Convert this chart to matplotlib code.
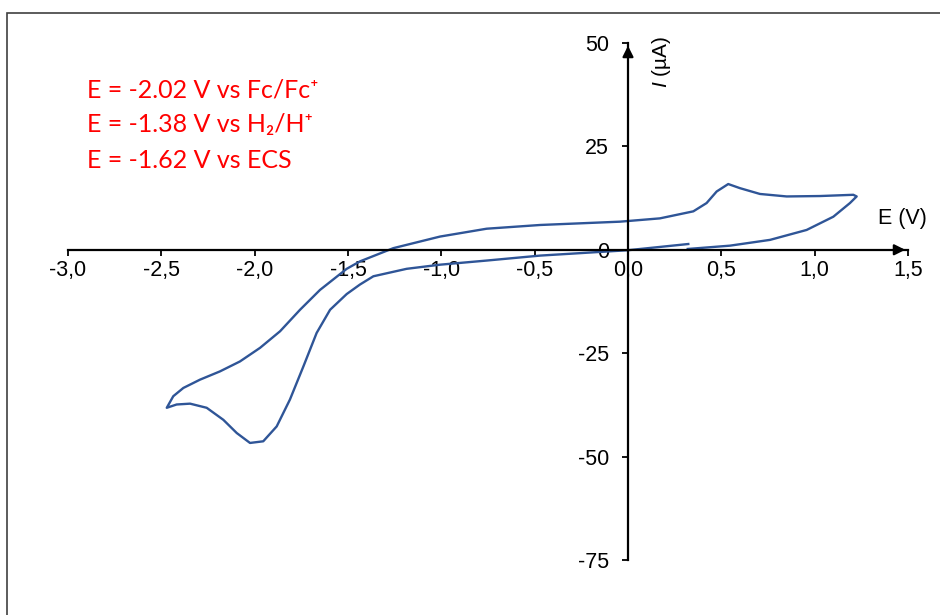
import matplotlib.pyplot as plt
from matplotlib.patches import Rectangle
from matplotlib.ticker import FuncFormatter, MultipleLocator

plt.rcParams['font.family'] = ['Liberation Sans', 'DejaVu Sans']
plt.rcParams['mathtext.fontset'] = 'custom'
plt.rcParams['mathtext.rm'] = 'Liberation Sans'
plt.rcParams['mathtext.it'] = 'Liberation Sans:italic'

# cyclic voltammogram, in scan order (E in V, I in uA)
E_scan = [0.32, 0.546, 0.761, 0.957, 1.10, 1.189, 1.225,
          1.207, 1.029, 0.85, 0.707, 0.60, 0.537, 0.475, 0.421, 0.35, 0.171, -0.043,
          -0.471, -0.757, -1.007, -1.257, -1.436, -1.507, -1.650, -1.757, -1.864,
          -1.971, -2.079, -2.186, -2.293, -2.382, -2.436, -2.471,
          -2.418, -2.346, -2.257, -2.168, -2.096, -2.025, -1.954, -1.882, -1.811,
          -1.739, -1.668, -1.596, -1.507, -1.436, -1.364, -1.186, -1.007, -0.757,
          -0.471, 0.0, 0.323]
I_scan = [0.2, 1.0, 2.4, 4.8, 8.0, 11.3, 12.9,
          13.3, 13.0, 12.9, 13.5, 14.9, 15.9, 14.1, 11.3, 9.3, 7.6, 6.8,
          6.0, 5.1, 3.2, 0.4, -2.8, -4.6, -9.7, -14.5, -19.7,
          -23.7, -27.0, -29.4, -31.4, -33.4, -35.4, -38.2,
          -37.4, -37.2, -38.2, -41.1, -44.3, -46.7, -46.3, -42.7, -36.2,
          -28.2, -20.1, -14.5, -10.7, -8.4, -6.4, -4.6, -3.6, -2.6,
          -1.4, -0.1, 1.4]

notes = ['E = -2.02 V vs Fc/Fc⁺',
         'E = -1.38 V vs H₂/H⁺',
         'E = -1.62 V vs ECS']

W, H = 940, 615
fig = plt.figure(figsize=(W / 100, H / 100), dpi=100)
ax = fig.add_axes([68 / W, 1 - 560 / H, 840 / W, 517 / H])

ax.plot(E_scan, I_scan, color='#2F5597', lw=1.7, solid_joinstyle='round')

ax.set_xlim(-3.0, 1.5)
ax.set_ylim(-75, 50)
ax.xaxis.set_major_locator(MultipleLocator(0.5))
ax.yaxis.set_major_locator(MultipleLocator(25))
ax.xaxis.set_major_formatter(FuncFormatter(lambda v, p: f'{v:.1f}'.replace('.', ',').replace('-0,0', '0,0')))
ax.yaxis.set_major_formatter(FuncFormatter(lambda v, p: f'{v:.0f}'))

ax.spines['left'].set_position(('data', 0))
ax.spines['bottom'].set_position(('data', 0))
ax.spines['right'].set_visible(False)
ax.spines['top'].set_visible(False)
for s in ('left', 'bottom'):
    ax.spines[s].set_linewidth(1.6)
ax.tick_params(axis='x', direction='out', length=4.5, width=1.3, labelsize=15.5, pad=3)
ax.tick_params(axis='y', direction='out', length=4.5, width=1.3, labelsize=15.5, pad=9)
ax.patch.set_visible(False)

# arrow heads on the axes
ax.annotate('', xy=(1.5, 0), xytext=(1.42, 0),
            arrowprops=dict(arrowstyle='-|>', color='black', lw=1.6, mutation_scale=16))
ax.annotate('', xy=(0, 50), xytext=(0, 46),
            arrowprops=dict(arrowstyle='-|>', color='black', lw=1.6, mutation_scale=16))

ax.text(1.47, 7.5, 'E (V)', fontsize=15.5, ha='center', va='center')
ax.text(0.177, 45.4, '$I$ (µA)', fontsize=15, rotation=90, ha='center', va='center')

for txt, yb in zip(notes, [97, 132, 168]):
    fig.text(87 / W, 1 - yb / H, txt, color='red', fontsize=18,
             family=['Lato', 'DejaVu Sans'], ha='left', va='baseline')

fig.patches.append(Rectangle((7 / W, -0.2), 2, 1 - 13 / H + 0.2, transform=fig.transFigure,
                             fill=False, edgecolor='#404040', lw=1.2))

fig.savefig('out.png', dpi=100)
